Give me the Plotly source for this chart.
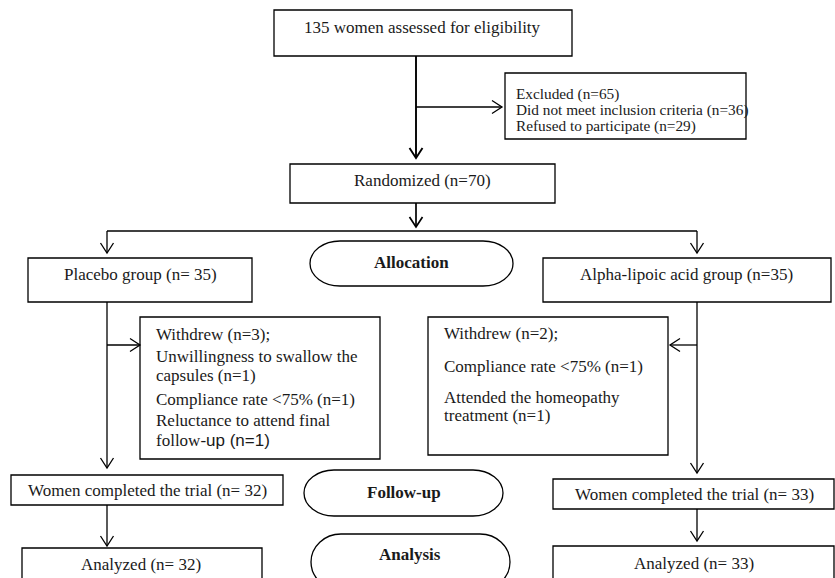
import plotly.graph_objects as go

# ---- data (counts from the flow diagram) ----
assessed = 135
excluded = 65
not_meeting = 36
refused = 29
randomized = 70
groups = ["Placebo group", "Alpha-lipoic acid group"]
allocated = [35, 35]
withdrew = [3, 2]
completed = [32, 33]
analyzed = [32, 33]
stages = ["Allocation", "Follow-up", "Analysis"]

SERIF = "Liberation Serif, Times New Roman, serif"
SANS = "Liberation Sans, Arial, sans-serif"
TXT = "#1a1a1a"
FS = 17

fig = go.Figure()
shapes = []
annots = []


def rect(x0, y0, x1, y1, w=1.3):
    shapes.append(dict(type="rect", x0=x0, y0=y0, x1=x1, y1=y1, xref="x", yref="y",
                       line=dict(color="black", width=w), fillcolor="rgba(0,0,0,0)"))


def poly(pts, w=1.4):
    p = "M " + " L ".join(f"{x},{y}" for x, y in pts)
    shapes.append(dict(type="path", path=p, xref="x", yref="y",
                       line=dict(color="black", width=w)))


def head(x, y, d, w=1.4, L=10, H=6.5):
    if d == "down":
        poly([(x - H, y - L), (x, y), (x + H, y - L)], w)
    elif d == "right":
        poly([(x - L, y - H), (x, y), (x - L, y + H)], w)
    elif d == "left":
        poly([(x + L, y - H), (x, y), (x + L, y + H)], w)


def arrow(pts, d, w=1.4):
    poly(pts, w)
    x, y = pts[-1]
    head(x, y, d, w)


def stadium(x0, y0, x1, y1, rx=30, w=1.3):
    ry = (y1 - y0) / 2
    ym = (y0 + y1) / 2
    k = 0.5523
    p = (f"M {x0+rx},{y0} L {x1-rx},{y0} "
         f"C {x1-rx+k*rx},{y0} {x1},{ym-k*ry} {x1},{ym} "
         f"C {x1},{ym+k*ry} {x1-rx+k*rx},{y1} {x1-rx},{y1} "
         f"L {x0+rx},{y1} "
         f"C {x0+rx-k*rx},{y1} {x0},{ym+k*ry} {x0},{ym} "
         f"C {x0},{ym-k*ry} {x0+rx-k*rx},{y0} {x0+rx},{y0} Z")
    shapes.append(dict(type="path", path=p, xref="x", yref="y",
                       line=dict(color="black", width=w)))


def text(x, y, s, anchor="center", size=FS, bold=False, family=SERIF):
    if bold:
        s = f"<b>{s}</b>"
    annots.append(dict(x=x, y=y, xref="x", yref="y", text=s, showarrow=False,
                       xanchor=anchor, yanchor="middle",
                       font=dict(family=family, size=size, color=TXT)))


# ---- top part ----
rect(274, 10, 572, 56)
text(422, 27, f"{assessed} women assessed for eligibility")
arrow([(416, 56), (416, 158)], "down", w=1.9)
arrow([(416, 107), (502, 107)], "right", w=1.3)
rect(505, 73, 746, 139)
text(514, 94, f"Excluded (n={excluded})", anchor="left", size=15.3)
text(514, 110, f"Did not meet inclusion criteria (n={not_meeting})", anchor="left", size=15.3)
text(514, 126, f"Refused to participate (n={refused})", anchor="left", size=15.3)

rect(290, 164, 555, 203)
text(422, 180, f"Randomized (n={randomized})")
arrow([(416, 203), (416, 227)], "down", w=1.7)

# split line
poly([(107, 231), (697, 231)], w=1.3)
arrow([(107, 231), (107, 253)], "down", w=1.3)
arrow([(697, 231), (697, 253)], "down", w=1.3)

# ---- allocation ----
rect(28, 258, 252, 302)
text(140, 274, f"{groups[0]} (n= {allocated[0]})")
rect(543, 258, 831, 302)
text(686, 274, f"{groups[1]} (n={allocated[1]})")
stadium(310, 241, 513, 286)
text(411, 262, stages[0], bold=True)

# ---- withdrawals ----
arrow([(107, 302), (107, 468)], "down", w=1.3)
arrow([(107, 345), (140, 345)], "right", w=1.3)
rect(140, 317, 380, 459)
text(154, 334, f"Withdrew (n={withdrew[0]});", anchor="left")
text(154, 356, "Unwillingness to swallow the", anchor="left")
text(154, 375, "capsules (n=1)", anchor="left")
text(154, 399, "Compliance rate &lt;75% (n=1)", anchor="left")
text(154, 420, "Reluctance to attend final", anchor="left")
text(154, 440, f"follow-<span style=\"font-family:{SANS}\">up (n=1)</span>", anchor="left")

arrow([(697, 302), (697, 473)], "down", w=1.3)
arrow([(697, 345), (670, 345)], "left", w=1.3)
rect(428, 317, 668, 455)
text(442, 333, f"Withdrew (n={withdrew[1]});", anchor="left")
text(442, 366, "Compliance rate &lt;75% (n=1)", anchor="left")
text(442, 397, "Attended the homeopathy", anchor="left")
text(442, 415, "treatment (n=1)", anchor="left")

# ---- follow-up ----
rect(11, 475, 283, 505)
text(147, 490, f"Women completed the trial (n= {completed[0]})")
stadium(304, 470, 503, 516)
text(404, 492, stages[1], bold=True)
rect(553, 479, 834, 509)
text(694, 494, f"Women completed the trial (n= {completed[1]})")

# ---- analysis ----
arrow([(107, 505), (107, 546)], "down", w=1.3)
rect(22, 548, 262, 590)
text(141, 564, f"Analyzed (n= {analyzed[0]})")
stadium(311, 534, 510, 590)
text(410, 554, stages[2], bold=True)
arrow([(697, 509), (697, 541)], "down", w=1.3)
rect(553, 546, 834, 590)
text(694, 563, f"Analyzed (n= {analyzed[1]})")

fig.update_layout(
    width=835, height=578,
    margin=dict(l=0, r=0, t=0, b=0),
    paper_bgcolor="white", plot_bgcolor="white",
    xaxis=dict(range=[0, 835], visible=False, fixedrange=True),
    yaxis=dict(range=[578, 0], visible=False, fixedrange=True),
    shapes=shapes, annotations=annots, showlegend=False,
)
fig.write_html("out.html", post_script="document.body.style.margin='0px';",
               config={"displayModeBar": False})
